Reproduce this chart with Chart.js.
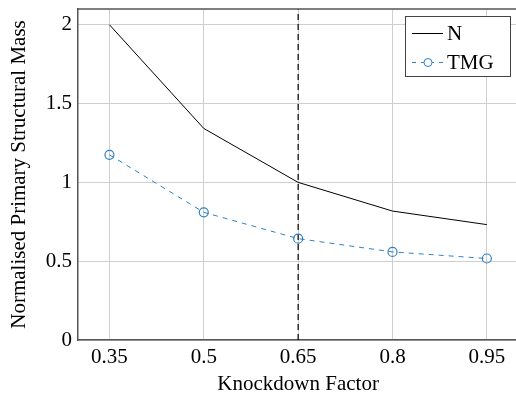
<!DOCTYPE html>
<html lang="en">
<head>
  <meta charset="UTF-8" />
  <title>Knockdown Factor</title>
  <script src="https://cdn.jsdelivr.net/npm/chart.js"></script>
  <style>
    html, body { margin: 0; padding: 0; background: #fff; overflow: hidden; }
    #wrap { width: 516px; height: 397px; overflow: hidden; }
  </style>
</head>
<body>
  <div id="wrap"><canvas id="kdChart" width="524" height="397"></canvas></div>

  <script>
    const knockdown = [0.35, 0.5, 0.65, 0.8, 0.95];
    const massN = [2.0, 1.342, 1.0, 0.818, 0.732];
    const massTMG = [1.175, 0.81, 0.643, 0.559, 0.517];
    const designKnockdown = 0.65;
    const xTicks = [0.35, 0.5, 0.65, 0.8, 0.95];
    const yTicks = [0, 0.5, 1, 1.5, 2];
    const xRange = [0.3, 1.0];
    const yRange = [0, 2.1];

    const serif = '"Liberation Serif", "DejaVu Serif", serif';
    const blue = '#2f80c4';

    // top frame line + legend box inside the plot
    const insideLegend = {
      id: 'insideLegend',
      afterDraw(chart) {
        const c = chart.ctx;
        const a = chart.chartArea;
        c.save();
        c.strokeStyle = '#555';
        c.lineWidth = 1.5;
        c.beginPath(); c.moveTo(a.left, a.top); c.lineTo(a.right + 2, a.top); c.stroke();

        const x0 = 405, y0 = 16, w = 105, h = 60;
        c.fillStyle = '#fff';
        c.fillRect(x0, y0, w, h);
        c.strokeStyle = '#444';
        c.lineWidth = 1;
        c.strokeRect(x0 + 0.5, y0 + 0.5, w, h);
        // N
        c.strokeStyle = '#000';
        c.beginPath(); c.moveTo(x0 + 7, 33.5); c.lineTo(x0 + 38, 33.5); c.stroke();
        // TMG
        c.strokeStyle = blue;
        c.setLineDash([4, 5]);
        c.beginPath(); c.moveTo(x0 + 7, 62.5); c.lineTo(x0 + 38, 62.5); c.stroke();
        c.setLineDash([]);
        c.fillStyle = '#fff';
        c.beginPath(); c.arc(x0 + 23, 62.5, 4, 0, Math.PI * 2); c.fill(); c.stroke();
        c.fillStyle = '#000';
        c.font = '21px ' + serif;
        c.textBaseline = 'middle';
        c.fillText('N', x0 + 42, 34);
        c.fillText('TMG', x0 + 42, 63);
        c.restore();
      }
    };

    const ctx = document.getElementById('kdChart').getContext('2d');
    new Chart(ctx, {
      type: 'scatter',
      data: {
        datasets: [
          {
            label: 'N',
            data: knockdown.map((k, i) => ({ x: k, y: massN[i] })),
            showLine: true,
            borderColor: '#000',
            borderWidth: 1,
            pointRadius: 0,
            tension: 0
          },
          {
            label: 'TMG',
            data: knockdown.map((k, i) => ({ x: k, y: massTMG[i] })),
            showLine: true,
            borderColor: blue,
            borderWidth: 1,
            borderDash: [5, 5],
            pointRadius: 4.5,
            pointBorderWidth: 1.2,
            pointBackgroundColor: 'rgba(255,255,255,0)',
            pointBorderColor: blue,
            tension: 0
          },
          {
            label: 'design',
            data: [{ x: designKnockdown, y: yRange[0] }, { x: designKnockdown, y: yRange[1] }],
            showLine: true,
            borderColor: '#000',
            borderWidth: 1.2,
            borderDash: [6, 4],
            pointRadius: 0
          }
        ]
      },
      options: {
        responsive: false,
        animation: false,
        layout: { padding: { top: 9, right: 0, left: 7, bottom: 0 } },
        plugins: { legend: { display: false }, tooltip: { enabled: false } },
        scales: {
          x: {
            type: 'linear',
            min: xRange[0],
            max: xRange[1],
            afterBuildTicks: axis => { axis.ticks = xTicks.map(v => ({ value: v })); },
            afterFit: axis => {
              axis.height = 57;
              axis.paddingLeft = 0;
              axis.paddingRight = 0;
            },
            ticks: {
              color: '#000',
              font: { family: serif, size: 21 },
              padding: 5,
              maxRotation: 0,
              callback: v => String(v)
            },
            grid: {
              color: c => (c.tick && xTicks.includes(c.tick.value)) ? '#cfcfcf' : 'rgba(0,0,0,0)',
              lineWidth: 1,
              tickLength: 0
            },
            border: { color: '#555', width: 1.5 },
            title: {
              display: true,
              text: 'Knockdown Factor',
              color: '#000',
              font: { family: serif, size: 21 },
              padding: { top: 2, bottom: 0 }
            }
          },
          y: {
            min: yRange[0],
            max: yRange[1],
            afterBuildTicks: axis => { axis.ticks = yTicks.map(v => ({ value: v })); },
            afterFit: axis => {
              axis.width = 71;
              axis.paddingTop = 0;
              axis.paddingBottom = 0;
            },
            ticks: {
              color: '#000',
              font: { family: serif, size: 21 },
              padding: 6,
              callback: v => String(v)
            },
            grid: { color: '#cfcfcf', lineWidth: 1, tickLength: 0 },
            border: { color: '#555', width: 1.5 },
            title: {
              display: true,
              text: 'Normalised Primary Structural Mass',
              color: '#000',
              font: { family: serif, size: 21 },
              padding: { top: 0, bottom: 2 }
            }
          }
        }
      },
      plugins: [insideLegend]
    });
  </script>
</body>
</html>
